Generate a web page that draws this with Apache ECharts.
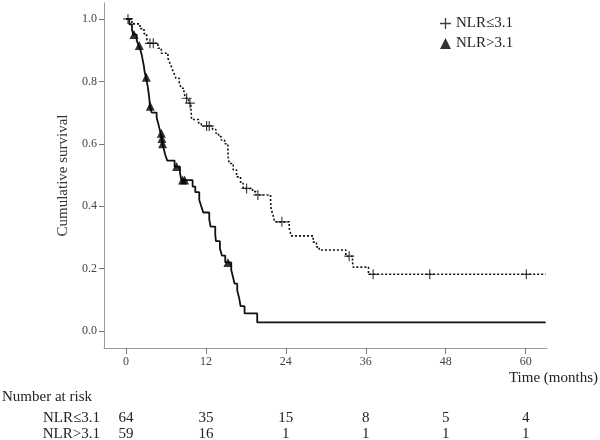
<!DOCTYPE html>
<html>
<head>
<meta charset="utf-8">
<script src="https://cdn.jsdelivr.net/npm/echarts@6/dist/echarts.min.js"></script>
<style>html,body{margin:0;padding:0;background:#fff}#c{width:600px;height:440px}</style>
</head>
<body>
<div id="c"></div>
<script>
// ---- data ----
const lowName = 'NLR≤3.1';
const highName = 'NLR>3.1';
const lowTimes = [0, 0.9, 2.1, 2.7, 3.1, 3.3, 4.8, 5.3, 6.3, 6.6, 6.9, 7.2, 7.5, 8.0, 8.3, 8.7, 9.0, 9.4, 9.75, 9.8, 9.85, 10.9, 11.3, 13.0, 13.5, 13.9, 14.3, 14.8, 15.3, 15.35, 15.5, 16.1, 16.6, 17.2, 17.6, 19.0, 19.5, 21.7, 21.8, 22.1, 22.3, 24.5, 24.8, 28.1, 28.6, 29.0, 33.0, 34.0, 34.1, 36.4];
const lowSurv  = [1.0, 0.984, 0.969, 0.953, 0.938, 0.922, 0.906, 0.89, 0.874, 0.858, 0.842, 0.826, 0.81, 0.794, 0.778, 0.762, 0.746, 0.73, 0.712, 0.695, 0.678, 0.667, 0.657, 0.646, 0.634, 0.623, 0.612, 0.60, 0.575, 0.556, 0.537, 0.516, 0.494, 0.473, 0.457, 0.447, 0.436, 0.415, 0.39, 0.37, 0.35, 0.33, 0.305, 0.285, 0.27, 0.26, 0.24, 0.222, 0.205, 0.182];
const lowCensor = [0.3, 3.6, 4.1, 9.1, 9.6, 12.1, 12.5, 18.1, 19.8, 23.4, 33.5, 37.1, 45.6, 60.1];

const highTimes = [0, 0.5, 0.9, 1.1, 1.6, 1.9, 2.2, 2.4, 2.55, 2.7, 2.8, 3.0, 3.15, 3.3, 3.4, 3.5, 3.6, 3.85, 4.6, 4.8, 5.0, 5.2, 5.35, 5.45, 5.7, 5.9, 6.2, 7.3, 8.1, 8.3, 10.0, 10.4, 11.0, 11.3, 11.6, 12.5, 12.7, 13.4, 13.5, 14.1, 14.4, 14.9, 15.8, 16.1, 16.3, 16.7, 17.0, 17.2, 17.8, 19.7];
const highSurv  = [1.0, 0.983, 0.966, 0.95, 0.932, 0.915, 0.898, 0.881, 0.864, 0.847, 0.83, 0.813, 0.796, 0.779, 0.762, 0.745, 0.72, 0.70, 0.684, 0.668, 0.651, 0.634, 0.617, 0.600, 0.582, 0.564, 0.546, 0.527, 0.508, 0.484, 0.463, 0.445, 0.42, 0.40, 0.38, 0.358, 0.335, 0.31, 0.288, 0.265, 0.242, 0.22, 0.196, 0.17, 0.152, 0.13, 0.105, 0.08, 0.057, 0.028];
const highCensor = [1.2, 2.0, 3.05, 3.65, 5.3, 5.4, 5.5, 7.6, 8.5, 8.8, 15.3];

const followEnd = 63;
const xTicks = [0, 12, 24, 36, 48, 60];
const yTicks = [0, 0.2, 0.4, 0.6, 0.8, 1.0];
const riskTimes = [0, 12, 24, 36, 48, 60];
const riskLow  = [64, 35, 15, 8, 5, 4];
const riskHigh = [59, 16, 1, 1, 1, 1];

// ---- helpers ----
function stepAt(times, surv, t) {
  let s = surv[0];
  for (let i = 0; i < times.length; i++) { if (times[i] <= t) s = surv[i]; }
  return s;
}
function curve(times, surv) {
  const d = times.map((t, i) => [t, surv[i]]);
  d.push([followEnd, surv[surv.length - 1]]);
  return d;
}
function censorPts(ct, times, surv) { return ct.map(t => [t, stepAt(times, surv, t)]); }

const plusPath = 'path://M4.4,0 h1.2 v4.4 h4.4 v1.2 h-4.4 v4.4 h-1.2 v-4.4 h-4.4 v-1.2 h4.4 z';
const serif = '"Liberation Serif", "Times New Roman", serif';
const axisGray = '#9a9a9a';

const chart = echarts.init(document.getElementById('c'), null, {renderer: 'canvas'});
chart.setOption({
  animation: false,
  backgroundColor: '#fff',
  grid: {left: 104, right: 53, top: 3, bottom: 92, containLabel: false},
  xAxis: {
    type: 'value', min: -3.3, max: 63.2,
    axisLine: {show: true, onZero: false, lineStyle: {color: axisGray, width: 1}},
    axisTick: {show: true, customValues: xTicks, length: 6, lineStyle: {color: '#777'}},
    axisLabel: {customValues: xTicks, margin: 8, fontFamily: serif, fontSize: 12, color: '#444'},
    splitLine: {show: false}
  },
  yAxis: {
    type: 'value', min: -0.054, max: 1.051,
    name: 'Cumulative survival', nameLocation: 'middle', nameGap: 33,
    nameTextStyle: {fontFamily: serif, fontSize: 15, color: '#333'},
    axisLine: {show: true, onZero: false, lineStyle: {color: axisGray, width: 1}},
    axisTick: {show: true, customValues: yTicks, length: 5, lineStyle: {color: '#777'}},
    axisLabel: {customValues: yTicks, margin: 7, fontFamily: serif, fontSize: 12, color: '#444',
                formatter: v => v.toFixed(1)},
    splitLine: {show: false}
  },
  legend: {
    orient: 'vertical', left: 435, top: 11, itemWidth: 11, itemHeight: 11, itemGap: 5,
    textStyle: {fontFamily: serif, fontSize: 15, color: '#222'},
    data: [{name: lowName, icon: plusPath}, {name: highName, icon: 'triangle'}]
  },
  series: [
    {name: lowName + ' curve', type: 'line', step: 'end', symbol: 'none',
     data: curve(lowTimes, lowSurv),
     lineStyle: {color: '#111', width: 1.6, type: [2, 2]}},
    {name: highName + ' curve', type: 'line', step: 'end', symbol: 'none',
     data: curve(highTimes, highSurv),
     lineStyle: {color: '#111', width: 1.8, type: 'solid'}},
    {name: lowName, type: 'scatter', symbol: plusPath, symbolSize: 10,
     data: censorPts(lowCensor, lowTimes, lowSurv),
     itemStyle: {color: '#111'}, z: 5},
    {name: highName, type: 'scatter', symbol: 'triangle', symbolSize: 9,
     data: censorPts(highCensor, highTimes, highSurv),
     itemStyle: {color: '#000'}, z: 5}
  ]
});

// risk table through the x-axis scale
const g = [];
g.push({type: 'text', right: 2, top: 371, style: {text: 'Time (months)', font: '15px ' + serif, fill: '#222'}});
g.push({type: 'text', left: 2, top: 390, style: {text: 'Number at risk', font: '15px ' + serif, fill: '#222'}});
const rowY = [411, 427];
const rowNames = [lowName, highName];
const rowVals = [riskLow, riskHigh];
rowNames.forEach((nm, r) => {
  g.push({type: 'text', x: 100, y: rowY[r], style: {text: nm, font: '15px ' + serif, fill: '#222', align: 'right'}});
  riskTimes.forEach((t, i) => {
    const px = chart.convertToPixel({xAxisIndex: 0}, t);
    g.push({type: 'text', x: px, y: rowY[r], style: {text: String(rowVals[r][i]), font: '15px ' + serif, fill: '#222', align: 'center'}});
  });
});
chart.setOption({graphic: g});
</script>
</body>
</html>
